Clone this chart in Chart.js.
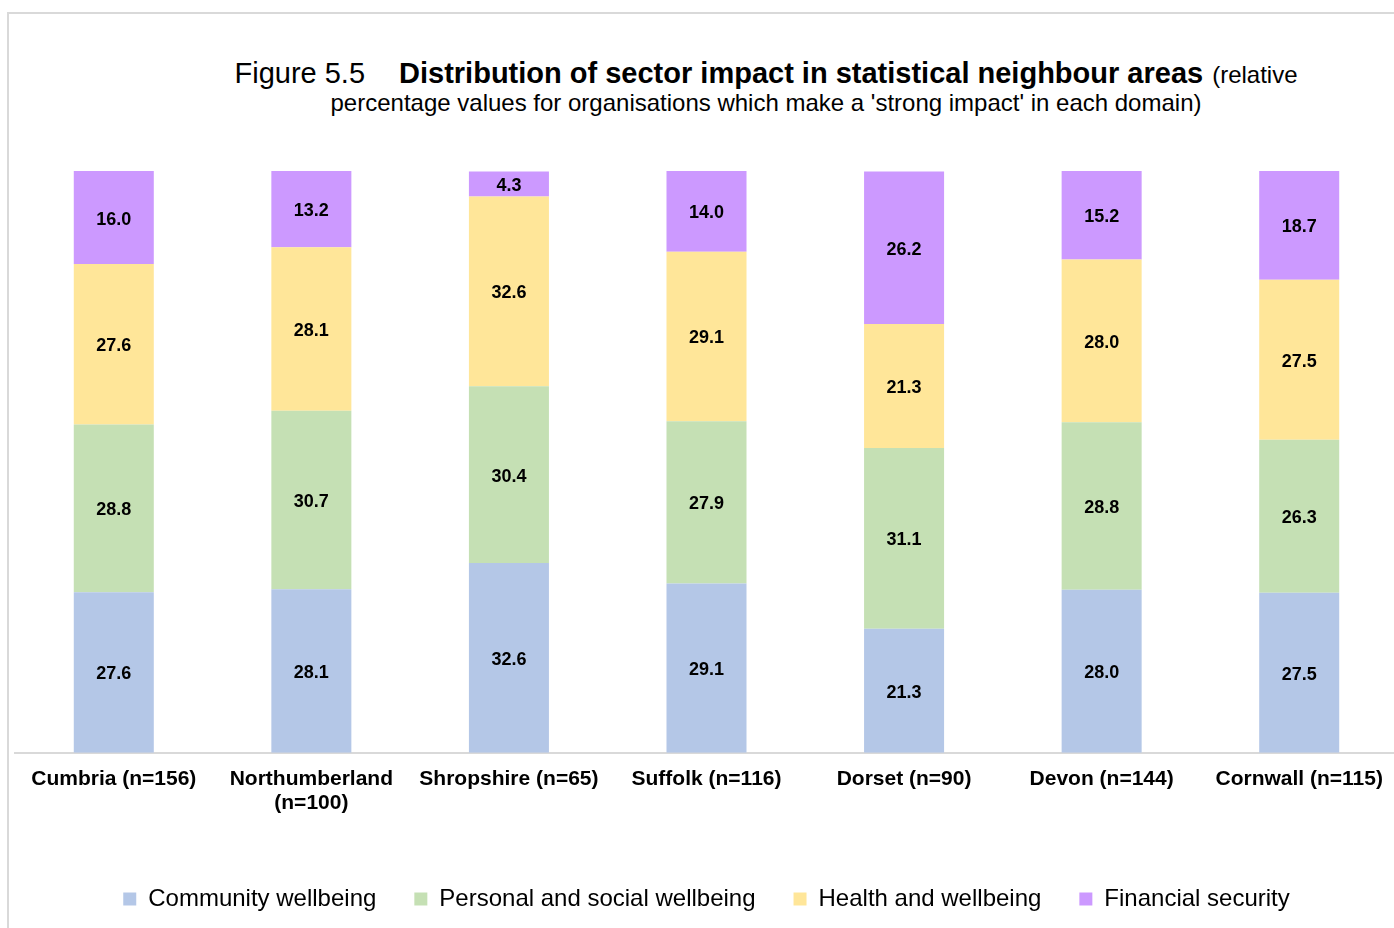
<!DOCTYPE html>
<html>
<head>
<meta charset="utf-8">
<script src="https://cdn.jsdelivr.net/npm/chart.js@4"></script>
<style>
  html, body { margin: 0; padding: 0; background: #fff; }
  body { width: 1394px; height: 928px; position: relative; overflow: hidden; font-family: "Liberation Sans", Arial, sans-serif; }
  #frame { position: absolute; left: 7px; top: 12px; width: 1500px; height: 1000px; border: 2px solid #d9d9d9; box-sizing: border-box; }
  .tl { position: absolute; left: 166px; width: 1200px; text-align: center; color: #000; white-space: nowrap; }
  #line1 { top: 59px; font-size: 29px; line-height: 29px; }
  #line2 { top: 91px; font-size: 24px; line-height: 24px; }
  .fig { margin-right: 34px; }
  .main { font-weight: bold; margin-right: 9px; }
  .sub { font-size: 24px; }
  #wrap { position: absolute; left: 0; top: 0; width: 1398px; height: 928px; }
</style>
</head>
<body>
<div id="frame"></div>
<div class="tl" id="line1"><span class="fig">Figure 5.5</span><span class="main">Distribution of sector impact in statistical neighbour areas</span><span class="sub">(relative</span></div>
<div class="tl" id="line2">percentage values for organisations which make a 'strong impact' in each domain)</div>
<div id="wrap"><canvas id="bar-chart" width="1398" height="928"></canvas></div>
<script>
const areas = [
  "Cumbria (n=156)",
  ["Northumberland", "(n=100)"],
  "Shropshire (n=65)",
  "Suffolk (n=116)",
  "Dorset (n=90)",
  "Devon (n=144)",
  "Cornwall (n=115)"
]

const community = [27.6, 28.1, 32.6, 29.1, 21.3, 28.0, 27.5]
const personal = [28.8, 30.7, 30.4, 27.9, 31.1, 28.8, 26.3]
const health = [27.6, 28.1, 32.6, 29.1, 21.3, 28.0, 27.5]
const financial = [16.0, 13.2, 4.3, 14.0, 26.2, 15.2, 18.7]

// draw the value in the middle of each segment
const segmentLabels = {
  id: "segmentLabels",
  afterDatasetsDraw(chart) {
    const ctx = chart.ctx
    ctx.save()
    ctx.font = "bold 18px 'Liberation Sans', Arial, sans-serif"
    ctx.fillStyle = "#000"
    ctx.textAlign = "center"
    ctx.textBaseline = "middle"
    chart.data.datasets.forEach((ds, i) => {
      const meta = chart.getDatasetMeta(i)
      meta.data.forEach((bar, j) => {
        ctx.fillText(ds.data[j].toFixed(1), bar.x, (bar.y + bar.base) / 2 + 2)
      })
    })
    ctx.restore()
  }
}

const contenedorBarChart = document.querySelector("#bar-chart").getContext("2d")

const barchart = new Chart(contenedorBarChart, {
  type: "bar",
  data: {
    labels: areas,
    datasets: [
      { label: "Community wellbeing", data: community, backgroundColor: "#b4c7e7" },
      { label: "Personal and social wellbeing", data: personal, backgroundColor: "#c5e0b4" },
      { label: "Health and wellbeing", data: health, backgroundColor: "#ffe699" },
      { label: "Financial security", data: financial, backgroundColor: "#cc99ff" }
    ]
  },
  options: {
    responsive: false,
    animation: false,
    layout: { padding: { left: 15, right: 0, top: 171, bottom: 7 } },
    datasets: {
      bar: { categoryPercentage: 1, barPercentage: 0.405, borderWidth: 0 }
    },
    scales: {
      x: {
        stacked: true,
        grid: { display: false, drawTicks: false },
        border: { display: true, color: "#d9d9d9", width: 2 },
        afterFit(scale) { scale.height += 20 },
        ticks: {
          color: "#000",
          padding: 14,
          maxRotation: 0,
          autoSkip: false,
          font: { family: "'Liberation Sans', Arial, sans-serif", size: 21, weight: "bold", lineHeight: 1.15 }
        }
      },
      y: {
        stacked: true,
        display: false,
        min: 0,
        max: 100
      }
    },
    plugins: {
      tooltip: { enabled: false },
      legend: {
        position: "bottom",
        labels: {
          color: "#000",
          boxWidth: 13,
          boxHeight: 13,
          padding: 38,
          font: { family: "'Liberation Sans', Arial, sans-serif", size: 24 }
        }
      }
    }
  },
  plugins: [segmentLabels]
})
</script>
</body>
</html>
